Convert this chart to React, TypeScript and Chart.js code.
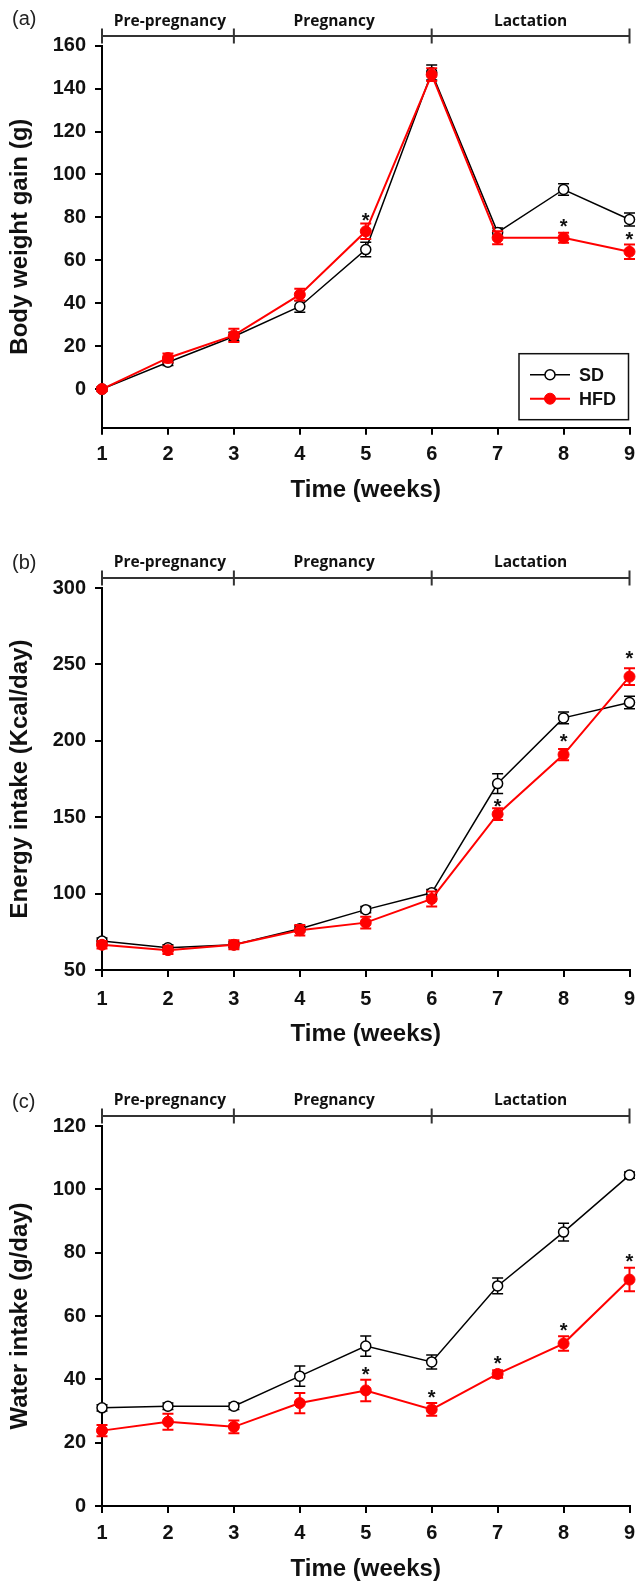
import React, { useEffect, useRef } from 'react';
import { Chart, registerables } from 'chart.js';

Chart.register(...registerables);

// ---------- shared data ----------
const weeks = [1, 2, 3, 4, 5, 6, 7, 8, 9];
const seriesNames = ['SD', 'HFD'];
const phaseNames = ['Pre-pregnancy', 'Pregnancy', 'Lactation'];
const phaseBounds = [1, 3, 6, 9];
const phaseLabelWeeks = [2.03, 4.52, 7.5];

// ---------- (a) Body weight gain ----------
const bwTicks = [0, 20, 40, 60, 80, 100, 120, 140, 160];
const bwSD = [0, 12.5, 24.5, 38.5, 65, 147.5, 73, 93, 79];
const bwSDErr = [1, 1.5, 2, 2.7, 3.4, 3.5, 2, 2.7, 3];
const bwHFD = [0, 14.5, 25, 44, 73.5, 146.5, 70.5, 70.5, 64];
const bwHFDErr = [1, 2.1, 3.1, 2.7, 3.6, 3, 3, 2.3, 3.4];
const bwStarWeeks = [5, 8, 9];
const bwStarValues = [81, 78, 72];

// ---------- (b) Energy intake ----------
const eiTicks = [50, 100, 150, 200, 250, 300];
const eiSD = [69, 64.5, 66.5, 77, 89.5, 100.5, 172, 215, 225];
const eiSDErr = [2, 2, 2, 2, 2, 2.2, 6.5, 3.8, 4.1];
const eiHFD = [66.5, 63, 66.5, 76, 81, 96.5, 152, 191, 242];
const eiHFDErr = [2.5, 2.5, 3, 3.5, 3.8, 4.9, 3.8, 3.7, 5.5];
const eiStarWeeks = [7, 8, 9];
const eiStarValues = [160, 203, 257];

// ---------- (c) Water intake ----------
const wiTicks = [0, 20, 40, 60, 80, 100, 120];
const wiSD = [31, 31.5, 31.5, 41, 50.5, 45.5, 69.5, 86.5, 104.5];
const wiSDErr = [1, 1, 1, 3.2, 3.2, 2.2, 2.5, 2.8, 1];
const wiHFD = [23.8, 26.6, 25, 32.5, 36.5, 30.5, 41.7, 51.3, 71.5];
const wiHFDErr = [1.8, 2.5, 2, 3.2, 3.4, 2, 1.2, 2.3, 3.7];
const wiStarWeeks = [5, 6, 7, 8, 9];
const wiStarValues = [43, 36, 46.5, 57, 78.7];

const ARIAL = '"Liberation Sans", Arial, sans-serif';
const PAGE_W = 636;
const CHART_LEFT = 102;
const CHART_RIGHT = 631;
const RED = '#ff0000';

type PanelCfg = {
  top: number;
  height: number;
  chartTop: number;
  chartBottom: number;
  yMin: number;
  yMax: number;
  yTicks: number[];
  yTitle: string;
  sd: number[];
  sdErr: number[];
  hfd: number[];
  hfdErr: number[];
  starWeeks: number[];
  starValues: number[];
  letter: string;
  letterY: number;
  barY: number;
  phaseTextY: number;
  xTickPad: number;
  xTitleY: number;
  legend: boolean;
};

const panels: PanelCfg[] = [
  {
    top: 0, height: 520, chartTop: 45.7, chartBottom: 427.7,
    yMin: -18, yMax: 160, yTicks: bwTicks, yTitle: 'Body weight gain (g)',
    sd: bwSD, sdErr: bwSDErr, hfd: bwHFD, hfdErr: bwHFDErr,
    starWeeks: bwStarWeeks, starValues: bwStarValues,
    letter: '(a)', letterY: 19, barY: 36, phaseTextY: 21.5,
    xTickPad: 8, xTitleY: 490, legend: true,
  },
  {
    top: 505, height: 545, chartTop: 588, chartBottom: 970,
    yMin: 50, yMax: 300, yTicks: eiTicks, yTitle: 'Energy intake (Kcal/day)',
    sd: eiSD, sdErr: eiSDErr, hfd: eiHFD, hfdErr: eiHFDErr,
    starWeeks: eiStarWeeks, starValues: eiStarValues,
    letter: '(b)', letterY: 563, barY: 578, phaseTextY: 563,
    xTickPad: 10, xTitleY: 1034, legend: false,
  },
  {
    top: 1040, height: 543, chartTop: 1126, chartBottom: 1506,
    yMin: 0, yMax: 120, yTicks: wiTicks, yTitle: 'Water intake (g/day)',
    sd: wiSD, sdErr: wiSDErr, hfd: wiHFD, hfdErr: wiHFDErr,
    starWeeks: wiStarWeeks, starValues: wiStarValues,
    letter: '(c)', letterY: 1102, barY: 1116, phaseTextY: 1101,
    xTickPad: 8, xTitleY: 1569, legend: false,
  },
];

function Panel({ cfg }: { cfg: PanelCfg }) {
  const ref = useRef<HTMLCanvasElement | null>(null);

  useEffect(() => {
    if (!ref.current) return;
    const T = cfg.top;
    const xh = cfg.xTitleY + 12 - cfg.chartBottom;
    const padBottom = Math.max(0, cfg.top + cfg.height - (cfg.chartBottom + xh));
    const errs = [cfg.sdErr, cfg.hfdErr];
    const vals = [cfg.sd, cfg.hfd];

    const overlay = {
      id: 'overlay' + cfg.letter,
      beforeDatasetDraw(chart: any, args: any) {
        const i = args.index;
        const ds = chart.data.datasets[i];
        const xs = chart.scales.x;
        const ys = chart.scales.y;
        const ctx = chart.ctx;
        ctx.save();
        ctx.strokeStyle = ds.borderColor;
        ctx.lineWidth = i === 0 ? 1.5 : 2;
        ctx.beginPath();
        weeks.forEach((w, j) => {
          const px = xs.getPixelForValue(w);
          const yt = ys.getPixelForValue(vals[i][j] + errs[i][j]);
          const yb = ys.getPixelForValue(vals[i][j] - errs[i][j]);
          ctx.moveTo(px, yt);
          ctx.lineTo(px, yb);
          ctx.moveTo(px - 5.5, yt);
          ctx.lineTo(px + 5.5, yt);
          ctx.moveTo(px - 5.5, yb);
          ctx.lineTo(px + 5.5, yb);
        });
        ctx.stroke();
        ctx.restore();
      },
      afterDraw(chart: any) {
        const ctx = chart.ctx;
        const xs = chart.scales.x;
        const ys = chart.scales.y;
        const ca = chart.chartArea;
        ctx.save();
        // panel letter
        ctx.fillStyle = '#222';
        ctx.font = `20px ${ARIAL}`;
        ctx.textAlign = 'left';
        ctx.textBaseline = 'middle';
        ctx.fillText(cfg.letter, 12, cfg.letterY - T);

        // phase bar
        const by = cfg.barY - T;
        ctx.strokeStyle = '#333';
        ctx.lineWidth = 2;
        ctx.beginPath();
        ctx.moveTo(xs.getPixelForValue(phaseBounds[0]), by);
        ctx.lineTo(xs.getPixelForValue(phaseBounds[phaseBounds.length - 1]), by);
        phaseBounds.forEach((b) => {
          const px = xs.getPixelForValue(b);
          ctx.moveTo(px, by - 7.5);
          ctx.lineTo(px, by + 7.5);
        });
        ctx.stroke();
        ctx.fillStyle = '#111';
        ctx.font = `bold 15.5px "Open Sans", ${ARIAL}`;
        ctx.textAlign = 'center';
        phaseNames.forEach((n, i) => {
          ctx.fillText(n, xs.getPixelForValue(phaseLabelWeeks[i]), cfg.phaseTextY - T);
        });

        // significance asterisks
        ctx.fillStyle = '#111';
        ctx.font = `bold 20px ${ARIAL}`;
        ctx.textBaseline = 'alphabetic';
        cfg.starWeeks.forEach((w, i) => {
          ctx.fillText('*', xs.getPixelForValue(w), ys.getPixelForValue(cfg.starValues[i]) + 11.5);
        });

        // legend
        if (cfg.legend) {
          const left = 519;
          const right = ca.right - 1;
          const top = ca.bottom - 74;
          const bottom = ca.bottom - 8;
          ctx.strokeStyle = '#111';
          ctx.lineWidth = 1.5;
          ctx.strokeRect(left, top, right - left, bottom - top);
          const rows = [ca.bottom - 53, ca.bottom - 29];
          chart.data.datasets.forEach((ds: any, i: number) => {
            const y = rows[i];
            ctx.strokeStyle = ds.borderColor;
            ctx.lineWidth = ds.borderWidth;
            ctx.beginPath();
            ctx.moveTo(530, y);
            ctx.lineTo(570, y);
            ctx.stroke();
            ctx.beginPath();
            ctx.arc(550, y, ds.pointRadius, 0, Math.PI * 2);
            ctx.fillStyle = ds.pointBackgroundColor;
            ctx.fill();
            ctx.lineWidth = ds.pointBorderWidth;
            ctx.strokeStyle = ds.pointBorderColor;
            ctx.stroke();
            ctx.fillStyle = '#111';
            ctx.font = `bold 18px ${ARIAL}`;
            ctx.textAlign = 'left';
            ctx.textBaseline = 'middle';
            ctx.fillText(ds.label, 579, y + 1);
          });
        }
        ctx.restore();
      },
    };

    const tickFont = { family: ARIAL, size: 20, weight: 'bold' as const };
    const titleFont = { family: ARIAL, size: 24, weight: 'bold' as const, lineHeight: 1 };

    const chart = new Chart(ref.current, {
      type: 'line',
      data: {
        datasets: [
          {
            label: seriesNames[0],
            data: weeks.map((w, i) => ({ x: w, y: cfg.sd[i] })),
            borderColor: '#000',
            borderWidth: 1.5,
            pointRadius: 5,
            pointBackgroundColor: '#fff',
            pointBorderColor: '#000',
            pointBorderWidth: 1.5,
            tension: 0,
            order: 1,
            clip: false as any,
          },
          {
            label: seriesNames[1],
            data: weeks.map((w, i) => ({ x: w, y: cfg.hfd[i] })),
            borderColor: RED,
            borderWidth: 2,
            pointRadius: 5.5,
            pointBackgroundColor: RED,
            pointBorderColor: RED,
            pointBorderWidth: 1,
            tension: 0,
            order: 0,
            clip: false as any,
          },
        ],
      },
      options: {
        responsive: false,
        animation: false,
        events: [],
        layout: {
          padding: {
            left: 0,
            right: PAGE_W - CHART_RIGHT,
            top: cfg.chartTop - T,
            bottom: padBottom,
          },
        },
        plugins: {
          legend: { display: false },
          tooltip: { enabled: false },
        },
        scales: {
          x: {
            type: 'linear',
            min: 1,
            max: 9,
            afterBuildTicks: (s: any) => {
              s.ticks = weeks.map((v) => ({ value: v }));
            },
            afterFit: (s: any) => {
              s.height = xh;
              s.paddingLeft = 0;
              s.paddingRight = 0;
            },
            grid: {
              drawOnChartArea: false,
              drawTicks: true,
              tickLength: 7,
              color: '#000',
              lineWidth: 2,
            },
            border: { display: true, color: '#000', width: 2 },
            ticks: {
              font: tickFont,
              color: '#111',
              padding: cfg.xTickPad,
              maxRotation: 0,
              autoSkip: false,
            },
            title: {
              display: true,
              text: 'Time (weeks)',
              font: titleFont,
              color: '#111',
              padding: { top: 0, bottom: 0 },
            },
          },
          y: {
            type: 'linear',
            min: cfg.yMin,
            max: cfg.yMax,
            afterBuildTicks: (s: any) => {
              s.ticks = cfg.yTicks.map((v) => ({ value: v }));
            },
            afterFit: (s: any) => {
              s.width = CHART_LEFT;
              s.paddingTop = 0;
              s.paddingBottom = 0;
            },
            grid: {
              drawOnChartArea: false,
              drawTicks: true,
              tickLength: 7,
              color: '#000',
              lineWidth: 2,
            },
            border: { display: true, color: '#000', width: 2 },
            ticks: {
              font: tickFont,
              color: '#111',
              padding: 9,
              autoSkip: false,
            },
            title: {
              display: true,
              text: cfg.yTitle,
              font: titleFont,
              color: '#111',
              padding: { top: 8, bottom: 0 },
            },
          },
        },
      },
      plugins: [overlay],
    } as any);

    return () => {
      chart.destroy();
    };
  }, [cfg]);

  return (
    <canvas
      ref={ref}
      width={PAGE_W}
      height={cfg.height}
      style={{ position: 'absolute', left: 0, top: cfg.top, width: PAGE_W, height: cfg.height }}
    />
  );
}

export default function App() {
  return (
    <div
      style={{
        position: 'absolute',
        left: 0,
        top: 0,
        width: PAGE_W,
        height: 1583,
        overflow: 'hidden',
        background: '#fff',
      }}
    >
      {panels.map((p) => (
        <Panel key={p.letter} cfg={p} />
      ))}
    </div>
  );
}
